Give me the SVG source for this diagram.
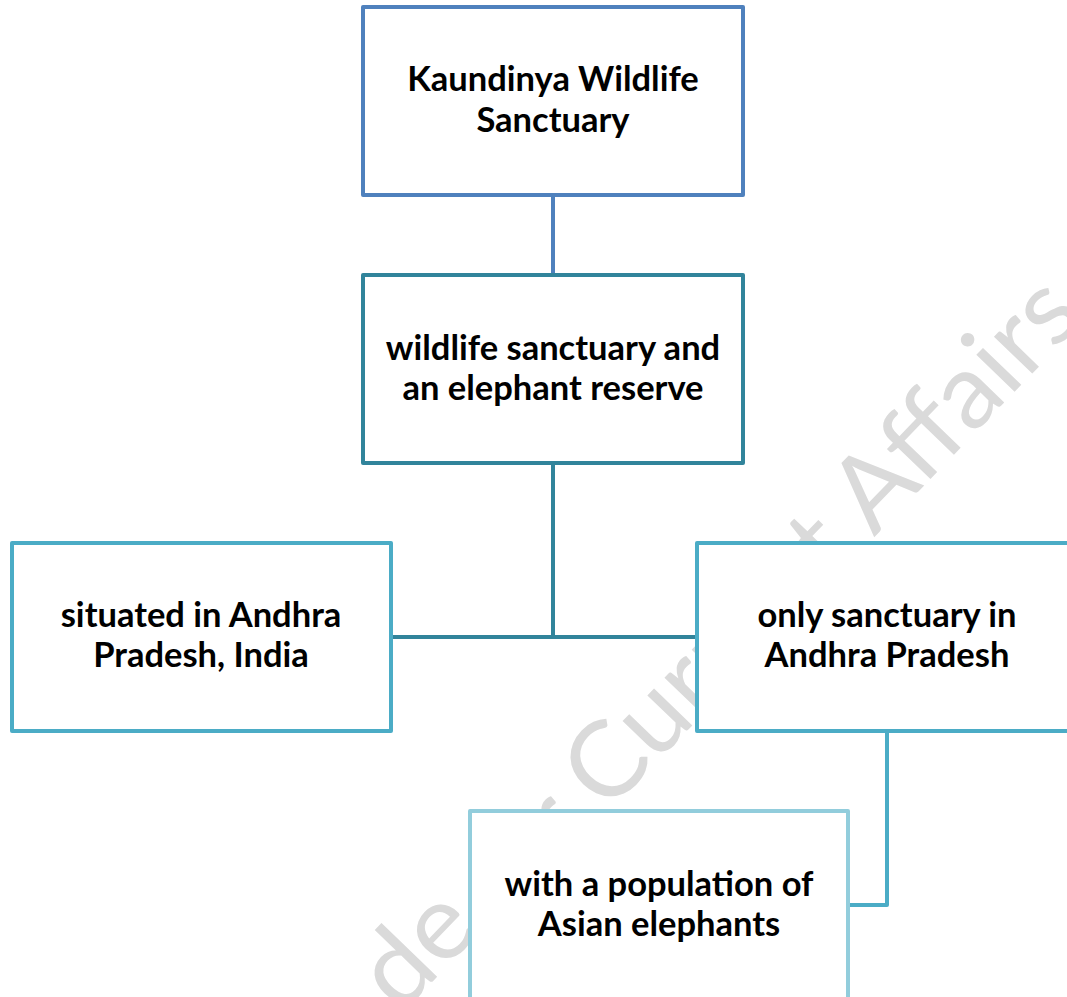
<svg xmlns="http://www.w3.org/2000/svg" width="1067" height="997" viewBox="0 0 1067 997">
  <style>
    .box { fill: #ffffff; stroke-width: 4; stroke-linejoin: round; }
    .lbl { font-family: Lato, "Liberation Sans", sans-serif; font-weight: 700; font-size: 34.5px; fill: #000000; text-anchor: middle; }
    .wm { font-family: Lato, "Liberation Sans", sans-serif; font-weight: 400; font-size: 105px; fill: #dadada; }
    .conn { fill: none; stroke-width: 4; stroke-linecap: butt; stroke-linejoin: round; }
  </style>
  <rect x="0" y="0" width="1067" height="997" fill="#ffffff"/>

  <g id="watermark" transform="rotate(-46)">
    <text class="wm" x="-452" y="993" textLength="118" lengthAdjust="spacingAndGlyphs">de</text>
    <text class="wm" x="-254" y="1002" textLength="780" lengthAdjust="spacingAndGlyphs">ir Current Affairs</text>
  </g>

  <g id="connectors">
    <line class="conn" x1="553" y1="195" x2="553" y2="275" stroke="#4f81bd"/>
    <polyline class="conn" points="553,463 553,637" stroke="#31849b"/>
    <line class="conn" x1="391" y1="637" x2="697" y2="637" stroke="#31849b"/>
    <polyline class="conn" points="887,731 887,905 848,905" stroke="#4bacc6"/>
  </g>

  <g id="node-kaundinya">
    <rect class="box" x="363" y="7" width="380" height="188" stroke="#4f81bd"/>
    <text class="lbl" x="553" y="91">Kaundinya Wildlife</text>
    <text class="lbl" x="553" y="132">Sanctuary</text>
  </g>

  <g id="node-sanctuary-reserve">
    <rect class="box" x="363" y="275" width="380" height="188" stroke="#31849b"/>
    <text class="lbl" x="553" y="360">wildlife sanctuary and</text>
    <text class="lbl" x="553" y="400">an elephant reserve</text>
  </g>

  <g id="node-situated">
    <rect class="box" x="12" y="543" width="379" height="188" stroke="#4bacc6"/>
    <text class="lbl" x="201" y="627">situated in Andhra</text>
    <text class="lbl" x="201" y="667">Pradesh, India</text>
  </g>

  <g id="node-only-sanctuary">
    <rect class="box" x="697" y="543" width="380" height="188" stroke="#4bacc6"/>
    <text class="lbl" x="887" y="627">only sanctuary in</text>
    <text class="lbl" x="887" y="667">Andhra Pradesh</text>
  </g>

  <g id="node-elephants">
    <rect class="box" x="470" y="811" width="378" height="188" stroke="#92cddc"/>
    <text class="lbl" x="659" y="896">with a population of</text>
    <text class="lbl" x="659" y="936">Asian elephants</text>
  </g>
</svg>
